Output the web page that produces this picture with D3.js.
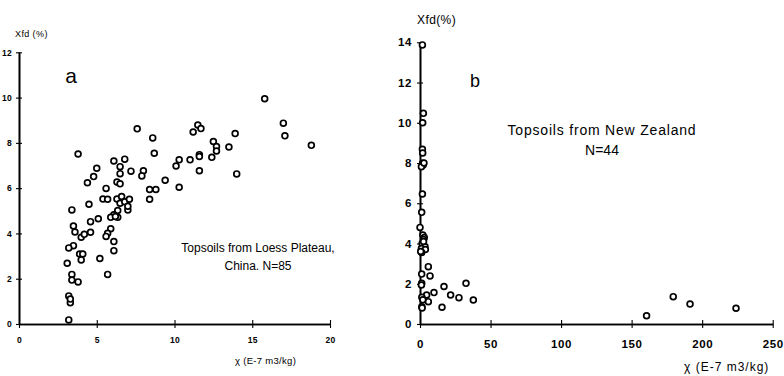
<!DOCTYPE html>
<html><head><meta charset="utf-8">
<script src="https://cdn.jsdelivr.net/npm/d3@7"></script>
<style>
body{margin:0;background:#fff;}
svg{display:block;}
text{font-family:"Liberation Sans",Arial,sans-serif;fill:#000;}
</style></head>
<body>
<svg id="c" width="784" height="376"></svg>
<script>
// Panel a: Loess Plateau, China (N=85)
const loessChi = [15.8,17.0,17.1,18.8,7.6,8.6,8.7,3.8,11.2,11.5,
  11.7,13.9,12.5,12.7,12.7,12.4,13.5,14.0,11.6,11.6,
  11.6,11.0,10.3,10.1,10.3,9.4,8.4,8.8,8.4,8.0,
  7.9,7.2,6.8,6.1,6.5,6.5,6.3,6.5,5.0,4.8,
  4.4,5.6,5.4,5.7,6.3,6.6,6.5,6.8,7.1,7.0,
  6.35,6.35,6.1,5.9,4.5,3.4,5.1,4.6,4.6,3.5,
  3.6,4.0,4.2,5.9,5.7,5.6,6.1,6.1,5.2,5.7,
  3.5,3.2,3.9,4.1,4.0,3.1,3.4,3.4,3.8,3.2,
  3.3,3.2,7.0,3.3,6.2];
const loessXfd = [9.95,8.87,8.31,7.89,8.62,8.22,7.54,7.51,8.48,8.79,
  8.63,8.41,8.06,7.84,7.64,7.36,7.82,6.63,7.48,7.40,
  6.77,7.25,7.25,6.98,6.04,6.35,5.94,5.94,5.51,6.77,
  6.54,6.75,7.28,7.20,6.95,6.64,6.27,6.19,6.88,6.51,
  6.24,5.99,5.52,5.51,5.52,5.63,5.33,5.40,5.51,5.04,
  5.01,4.71,4.82,4.71,5.29,5.04,4.65,4.52,4.05,4.33,
  4.06,3.83,3.96,4.21,4.01,3.87,3.64,3.24,2.89,2.19,
  3.46,3.36,3.09,3.09,2.83,2.68,2.19,1.94,1.86,1.24,
  0.94,0.18,5.2,1.1,4.75];
// Panel b: New Zealand (N=44)
const nzChi = [1.7,2.4,1.9,1.7,1.9,1.9,2.2,1.0,1.7,1.2,
  0.0,2.0,3.0,2.5,1.5,3.5,1.0,3.8,1.2,5.9,
  7.1,1.2,1.2,1.0,4.7,1.3,9.9,5.9,1.3,1.5,
  17.0,15.6,21.7,27.6,32.6,37.8,160.6,179.5,191.4,224.0,
  2.5,0.5,2.0,2.8];
const nzXfd = [13.87,10.47,10.0,8.68,8.5,7.99,7.9,7.82,6.46,5.55,
  4.8,4.42,4.3,4.2,4.0,3.85,3.75,3.7,3.55,2.85,
  2.39,2.48,2.02,1.94,1.44,1.33,1.56,1.11,0.86,0.8,
  1.86,0.83,1.44,1.31,2.02,1.19,0.41,1.36,0.99,0.78,
  4.1,3.6,1.2,8.0];
const ticksAX = [0,5,10,15,20];
const ticksAY = [0,2,4,6,8,10,12];
const ticksBX = [0,50,100,150,200,250];
const ticksBY = [0,2,4,6,8,10,12,14];

const svg = d3.select("#c");

function panel(o){
  const g = svg.append("g");
  const x = d3.scaleLinear().domain(o.xd).range(o.xr);
  const y = d3.scaleLinear().domain(o.yd).range(o.yr);
  const gx = g.append("g").attr("transform",`translate(0,${o.yr[0]})`)
    .call(d3.axisBottom(x).tickValues(o.tx).tickSizeInner(4).tickSizeOuter(0).tickPadding(o.xpad));
  g.append("g").attr("transform",`translate(0,${o.yr[0]})`)
    .call(d3.axisTop(x).tickValues(o.tx.slice(1)).tickSizeInner(4).tickSizeOuter(0).tickFormat(""));
  const gy = g.append("g").attr("transform",`translate(${o.xr[0]},0)`)
    .call(d3.axisLeft(y).tickValues(o.ty).tickSizeInner(3).tickSizeOuter(0).tickPadding(o.ypad));
  g.append("g").attr("transform",`translate(${o.xr[0]},0)`)
    .call(d3.axisRight(y).tickValues(o.ty.slice(1)).tickSizeInner(3).tickSizeOuter(0).tickFormat(""));
  g.selectAll(".domain").attr("stroke","#000").attr("stroke-width",1.6);
  g.selectAll(".tick line").attr("stroke","#000").attr("stroke-width",1.1);
  [gx,gy].forEach(a=>a.selectAll("text").attr("font-size",o.fs).attr("font-weight","bold")
    .attr("letter-spacing",o.ls).attr("font-family","Liberation Sans, Arial, sans-serif"));
  g.append("g").selectAll("circle").data(o.xs.map((v,i)=>[v,o.ys[i]])).join("circle")
    .attr("cx",d=>x(d[0])).attr("cy",d=>y(d[1])).attr("r",2.9)
    .attr("fill","#fff").attr("stroke","#000").attr("stroke-width",1.7);
  return g;
}

panel({xd:[0,20],xr:[19,330],yd:[0,12],yr:[324,52.3],tx:ticksAX,ty:ticksAY,
  xs:loessChi,ys:loessXfd,fs:8.5,ls:0.3,xpad:9,ypad:4});
panel({xd:[0,250],xr:[420,772.7],yd:[0,14],yr:[324,42.3],tx:ticksBX,ty:ticksBY,
  xs:nzChi,ys:nzXfd,fs:11.5,ls:0.6,xpad:12,ypad:5});

// titles & annotations
svg.append("text").attr("x",15).attr("y",37).attr("font-size",9).attr("letter-spacing",0.4).text("Xfd (%)");
svg.append("text").attr("x",235).attr("y",364).attr("font-size",9.5).attr("letter-spacing",0.3).text("χ (E-7 m3/kg)");
svg.append("text").attr("x",71).attr("y",83).attr("text-anchor","middle")
  .attr("font-family","Liberation Sans Narrow, Liberation Sans, sans-serif").attr("font-size",21).text("a");
svg.append("text").attr("x",258).attr("y",252).attr("text-anchor","middle").attr("font-size",12).text("Topsoils from Loess Plateau,");
svg.append("text").attr("x",258).attr("y",270).attr("text-anchor","middle").attr("font-size",12).text("China. N=85");

svg.append("text").attr("x",417).attr("y",24).attr("font-size",12).attr("letter-spacing",0.4).text("Xfd(%)");
svg.append("text").attr("x",684).attr("y",371).attr("font-size",12).attr("letter-spacing",1).text("χ (E-7 m3/kg)");
svg.append("text").attr("x",475).attr("y",87).attr("text-anchor","middle")
  .attr("font-family","Liberation Sans Narrow, Liberation Sans, sans-serif").attr("font-size",18).text("b");
svg.append("text").attr("x",602).attr("y",135).attr("text-anchor","middle").attr("font-size",14).attr("letter-spacing",0.8).text("Topsoils from New Zealand");
svg.append("text").attr("x",602).attr("y",155).attr("text-anchor","middle").attr("font-size",14).text("N=44");
</script>
</body></html>
